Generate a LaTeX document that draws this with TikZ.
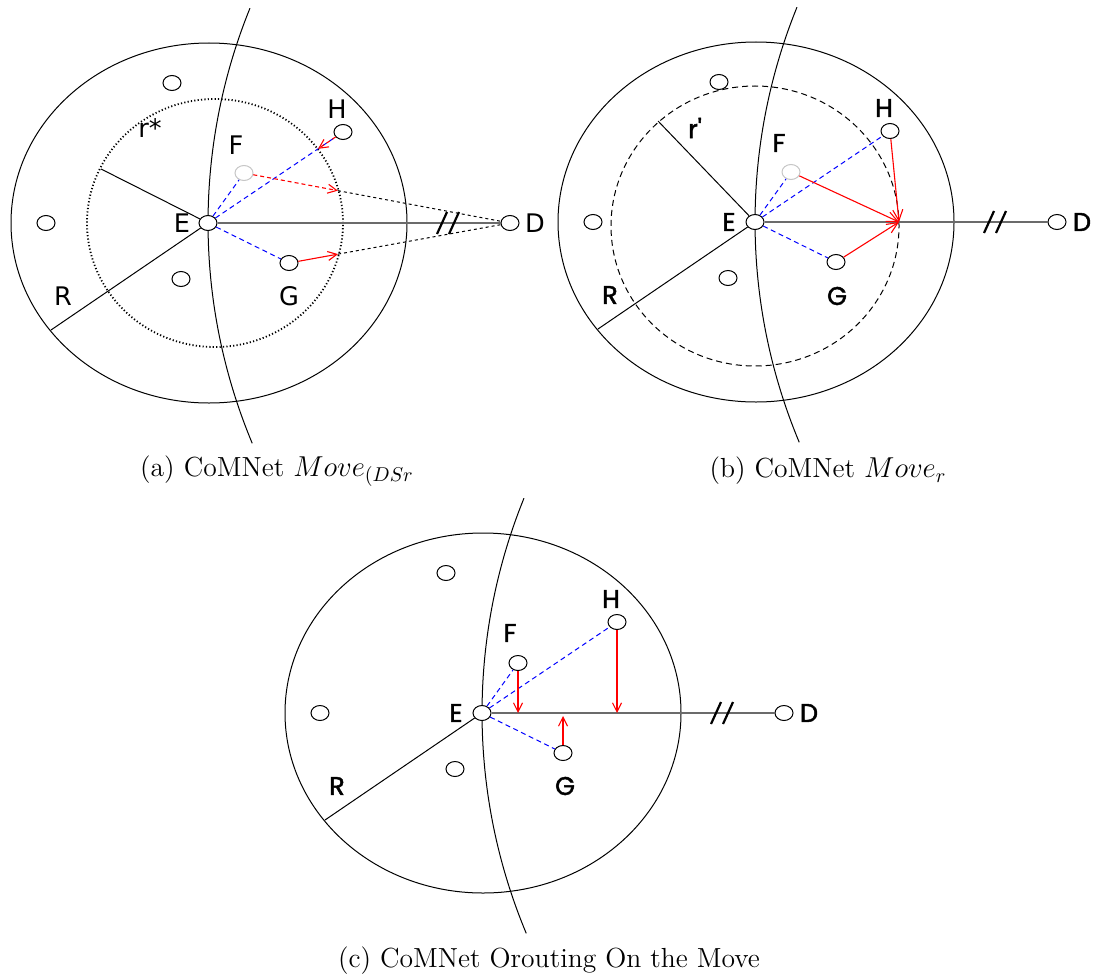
\documentclass[tikz,border=0pt]{standalone}
\usepackage{fontspec}
\newfontfamily\plainsans{DejaVu Sans}
\newfontfamily\heavysans[Ligatures=TeXOff, FakeBold=1.8]{Poppins}
\usetikzlibrary{shapes.geometric,arrows.meta,calc}

\tikzset{
  host/.style={ellipse, draw=black, line width=0.5pt, fill=white,
    minimum width=9pt, minimum height=7.5pt, inner sep=0pt},
  ghost/.style={host, draw=black!22},
  border/.style={line width=0.5pt, draw=black},
  road/.style={line width=1pt, draw=black!58},
  slash/.style={line width=1.1pt, draw=black},
  probe/.style={line width=0.5pt, draw=blue, dash pattern=on 2.5pt off 1.8pt},
  hop/.style={line width=0.55pt, draw=red, -{Straight Barb[length=4.5pt,width=4.5pt]}},
  bighop/.style={hop, -{Straight Barb[length=5.5pt,width=5pt]}},
  hopdash/.style={hop, dash pattern=on 2pt off 1.5pt},
  todst/.style={line width=0.5pt, draw=black, dash pattern=on 1.5pt off 1.5pt},
  ring/.style={line width=0.5pt, draw=black, dash pattern=on 3pt off 2pt},
  dotring/.style={line width=0.9pt, draw=black, dash pattern=on 0.6pt off 1.1pt},
  thinlbl/.style={inner sep=0pt, font=\plainsans\fontsize{12.8}{14}\selectfont},
  boldlbl/.style={inner sep=0pt, font=\heavysans\fontsize{12.8}{14}\selectfont},
  caption/.style={inner sep=0pt, font=\fontsize{13.8}{16}\selectfont}
}

% common part of a panel: cell, big arc, E, D, other hosts, R
\newcommand{\cellbase}[2]{%
  \draw[border] (1,0) ellipse [x radius=198, y radius=180];
  \draw[border] (571,0) ++(157.9:571) arc [start angle=157.9, end angle=202.7, radius=571];
  \node[host] (#1E) at (0,0) {};
  \node[host] (#1D) at (302,0) {};
  \node[host] (#1n1) at (-36,140) {};
  \node[host] (#1n2) at (-162,0) {};
  \node[host] (#1n3) at (-27,-56) {};
  \coordinate (#1R) at (-157,-107);
  \draw[road] (#1E) -- (#1D);
  \draw[slash] (229,-11) -- ++(10,22) (241,-11) -- ++(10,22);
  \draw[border] (#1E) -- (#1R);
  \node[#2] at (-26,0) {E};
  \node[#2] at (327,0) {D};
  \node[#2] at (-145,-73) {R};
}

\begin{document}
\begin{tikzpicture}[x=0.5pt, y=0.5pt]
  \useasboundingbox (0,0) rectangle (1095,-979);

  % (a) Move_(DSr
  \begin{scope}[shift={(208,-223)}]
    \draw[dotring] (7,0) ellipse [x radius=128, y radius=124];
    \cellbase{a}{thinlbl}
    \coordinate (ars) at (-107,54);
    \draw[border] (aE) -- (ars);
    \node[host] (aH) at (135,91) {};
    \node[ghost] (aF) at (36,50) {};
    \node[host] (aG) at (81,-40) {};
    \coordinate (aHc) at ($(aE)!0.815!(aH)$);
    \coordinate (aFc) at ($(aF)!0.353!(aD)$);
    \coordinate (aGc) at ($(aG)!0.222!(aD)$);
    \foreach \to in {aF, aH, aG}
      \draw[probe] (aE) -- (\to);
    \draw[todst] (aFc) -- (aD);
    \draw[todst] (aGc) -- (aD);
    \draw[hopdash] (aH) -- (aHc);
    \draw[hopdash] (aF) -- (aFc);
    \draw[hop] (aG) -- (aGc);
    \node[thinlbl] at (-58,95) {r*};
    \node[thinlbl] at (129,114) {H};
    \node[thinlbl] at (28,78) {F};
    \node[thinlbl] at (81,-73) {G};
  \end{scope}

  % (b) Move_r
  \begin{scope}[shift={(755,-222)}]
    \draw[ring] (0,-4) ellipse [x radius=144, y radius=140];
    \cellbase{b}{boldlbl}
    \coordinate (brs) at (-97,101);
    \draw[border] (bE) -- (brs);
    \node[host] (bH) at (135,91) {};
    \node[ghost] (bF) at (36,50) {};
    \node[host] (bG) at (81,-40) {};
    \coordinate (bX) at (144,0);
    \foreach \to in {bF, bH, bG}
      \draw[probe] (bE) -- (\to);
    \foreach \from in {bF, bH, bG}
      \draw[bighop] (\from) -- (bX);
    \node[boldlbl] at (-60,94) {r'};
    \node[boldlbl] at (129,114) {H};
    \node[boldlbl] at (24,79) {F};
    \node[boldlbl] at (82,-74) {G};
  \end{scope}

  % (c) Orouting on the move
  \begin{scope}[shift={(482,-713)}]
    \cellbase{c}{boldlbl}
    \node[host] (cH) at (135,91) {};
    \node[host] (cF) at (36,50) {};
    \node[host] (cG) at (81,-40) {};
    \coordinate (cFc) at (cF |- cE);
    \coordinate (cHc) at (cH |- cE);
    \coordinate (cGc) at ($(cG |- cE)+(0,-3)$);
    \foreach \to in {cF, cH, cG}
      \draw[probe] (cE) -- (\to);
    \draw[hop] (cF) -- (cFc);
    \draw[hop] (cH) -- (cHc);
    \draw[hop] (cG) -- (cGc);
    \node[boldlbl] at (129,114) {H};
    \node[boldlbl] at (28,80) {F};
    \node[boldlbl] at (83,-73) {G};
  \end{scope}

  % captions
  \node[caption] at (277,-471) {(a) CoMNet $Move_{(DSr}$};
  \node[caption] at (828,-471) {(b) CoMNet $Move_r$};
  \node[caption] at (549,-961) {(c) CoMNet Orouting On the Move};
\end{tikzpicture}
\end{document}
